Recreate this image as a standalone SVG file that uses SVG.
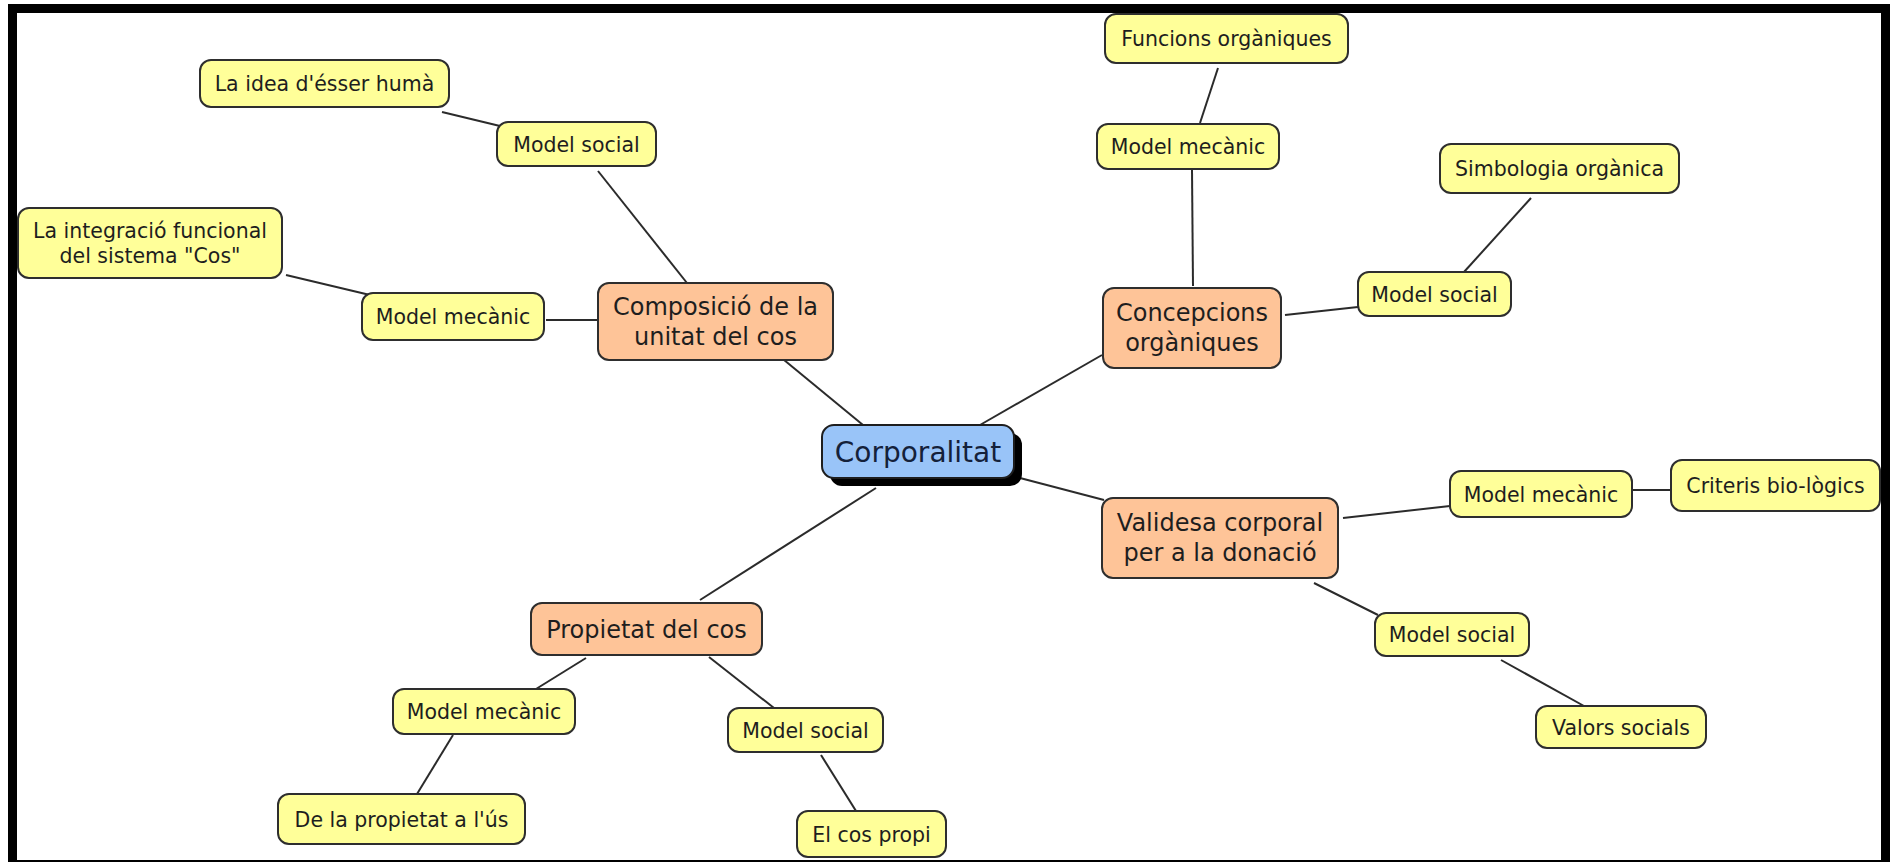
<svg xmlns="http://www.w3.org/2000/svg" width="1890" height="862" viewBox="0 0 1890 862">
  <defs>
    <style>
      .link { stroke: #2b2b2b; stroke-width: 2; fill: none; }
      .leaf rect { fill: #ffff99; stroke: #2e2e2e; stroke-width: 2; }
      .branch rect { fill: #fec498; stroke: #2e2e2e; stroke-width: 2; }
      .root rect.face { fill: #99c4f8; stroke: #1e1e1e; stroke-width: 2; }
      .root rect.drop { fill: #000000; }
      text { font-family: "DejaVu Sans", Verdana, sans-serif; fill: #1e1e1e; text-anchor: middle; }
      .leaf text { font-size: 20.5px; }
      .branch text { font-size: 24px; }
      .root text { font-size: 28px; fill: #14213a; }
    </style>
  </defs>

  <!-- page and frame -->
  <rect x="0" y="0" width="1890" height="862" fill="#ffffff"/>
  <g id="frame" fill="#000000">
    <rect x="8" y="4" width="1882" height="9"/>
    <rect x="8" y="4" width="9" height="858"/>
    <rect x="1881" y="4" width="9" height="858"/>
    <rect x="8" y="860" width="1882" height="2"/>
  </g>

  <!-- connectors -->
  <g id="connectors" class="link">
    <line x1="442" y1="112" x2="500" y2="126"/>
    <line x1="598" y1="171" x2="687" y2="283"/>
    <line x1="286" y1="275" x2="370" y2="295"/>
    <line x1="546" y1="320" x2="598" y2="320"/>
    <line x1="1218" y1="68" x2="1200" y2="123"/>
    <line x1="1192" y1="170" x2="1193" y2="286"/>
    <line x1="1285" y1="315" x2="1358" y2="307"/>
    <line x1="1531" y1="198" x2="1464" y2="272"/>
    <line x1="778" y1="355" x2="863" y2="425"/>
    <line x1="1102" y1="355" x2="980" y2="425"/>
    <line x1="1020" y1="478" x2="1104" y2="500"/>
    <line x1="876" y1="488" x2="700" y2="600"/>
    <line x1="1343" y1="518" x2="1450" y2="506"/>
    <line x1="1632" y1="490" x2="1671" y2="490"/>
    <line x1="1314" y1="583" x2="1378" y2="615"/>
    <line x1="1501" y1="660" x2="1584" y2="706"/>
    <line x1="586" y1="658" x2="536" y2="689"/>
    <line x1="453" y1="735" x2="417" y2="794"/>
    <line x1="709" y1="657" x2="774" y2="708"/>
    <line x1="821" y1="755" x2="856" y2="811"/>
  </g>

  <!-- central concept -->
  <g id="corporalitat" class="root">
    <rect class="drop" x="830" y="433" width="192" height="53" rx="12"/>
    <rect class="face" x="822" y="425" width="192" height="53" rx="12"/>
    <text x="918" y="461.5">Corporalitat</text>
  </g>

  <!-- main branches -->
  <g id="composicio" class="branch">
    <rect x="598" y="283" width="235" height="77" rx="11"/>
    <text x="715.5" y="315">Composició de la</text>
    <text x="715.5" y="345">unitat del cos</text>
  </g>
  <g id="concepcions" class="branch">
    <rect x="1103" y="288" width="178" height="80" rx="11"/>
    <text x="1192" y="321">Concepcions</text>
    <text x="1192" y="351">orgàniques</text>
  </g>
  <g id="validesa" class="branch">
    <rect x="1102" y="498" width="236" height="80" rx="11"/>
    <text x="1220" y="531">Validesa corporal</text>
    <text x="1220" y="561">per a la donació</text>
  </g>
  <g id="propietat" class="branch">
    <rect x="531" y="603" width="231" height="52" rx="11"/>
    <text x="646.5" y="637.5">Propietat del cos</text>
  </g>

  <!-- leaf concepts -->
  <g id="idea-esser-huma" class="leaf">
    <rect x="200" y="60" width="249" height="47" rx="11"/>
    <text x="324.5" y="91">La idea d'ésser humà</text>
  </g>
  <g id="composicio-social" class="leaf">
    <rect x="497" y="122" width="159" height="44" rx="11"/>
    <text x="576.5" y="151.5">Model social</text>
  </g>
  <g id="integracio-funcional" class="leaf">
    <rect x="18" y="208" width="264" height="70" rx="11"/>
    <text x="150" y="238">La integració funcional</text>
    <text x="150" y="263">del sistema "Cos"</text>
  </g>
  <g id="composicio-mecanic" class="leaf">
    <rect x="362" y="293" width="182" height="47" rx="11"/>
    <text x="453" y="324">Model mecànic</text>
  </g>
  <g id="funcions-organiques" class="leaf">
    <rect x="1105" y="14" width="243" height="49" rx="11"/>
    <text x="1226.5" y="46">Funcions orgàniques</text>
  </g>
  <g id="concepcions-mecanic" class="leaf">
    <rect x="1097" y="124" width="182" height="45" rx="11"/>
    <text x="1188" y="154">Model mecànic</text>
  </g>
  <g id="simbologia-organica" class="leaf">
    <rect x="1440" y="144" width="239" height="49" rx="11"/>
    <text x="1559.5" y="176">Simbologia orgànica</text>
  </g>
  <g id="concepcions-social" class="leaf">
    <rect x="1358" y="272" width="153" height="44" rx="11"/>
    <text x="1434.5" y="301.5">Model social</text>
  </g>
  <g id="validesa-mecanic" class="leaf">
    <rect x="1450" y="471" width="182" height="46" rx="11"/>
    <text x="1541" y="501.5">Model mecànic</text>
  </g>
  <g id="criteris-biologics" class="leaf">
    <rect x="1671" y="460" width="209" height="51" rx="11"/>
    <text x="1775.5" y="492.5">Criteris bio-lògics</text>
  </g>
  <g id="validesa-social" class="leaf">
    <rect x="1375" y="613" width="154" height="43" rx="11"/>
    <text x="1452" y="642">Model social</text>
  </g>
  <g id="valors-socials" class="leaf">
    <rect x="1536" y="706" width="170" height="42" rx="11"/>
    <text x="1621" y="734.5">Valors socials</text>
  </g>
  <g id="propietat-mecanic" class="leaf">
    <rect x="393" y="689" width="182" height="45" rx="11"/>
    <text x="484" y="719">Model mecànic</text>
  </g>
  <g id="propietat-us" class="leaf">
    <rect x="278" y="794" width="247" height="50" rx="11"/>
    <text x="401.5" y="826.5">De la propietat a l'ús</text>
  </g>
  <g id="propietat-social" class="leaf">
    <rect x="728" y="708" width="155" height="44" rx="11"/>
    <text x="805.5" y="737.5">Model social</text>
  </g>
  <g id="cos-propi" class="leaf">
    <rect x="797" y="811" width="149" height="46" rx="11"/>
    <text x="871.5" y="841.5">El cos propi</text>
  </g>
</svg>
